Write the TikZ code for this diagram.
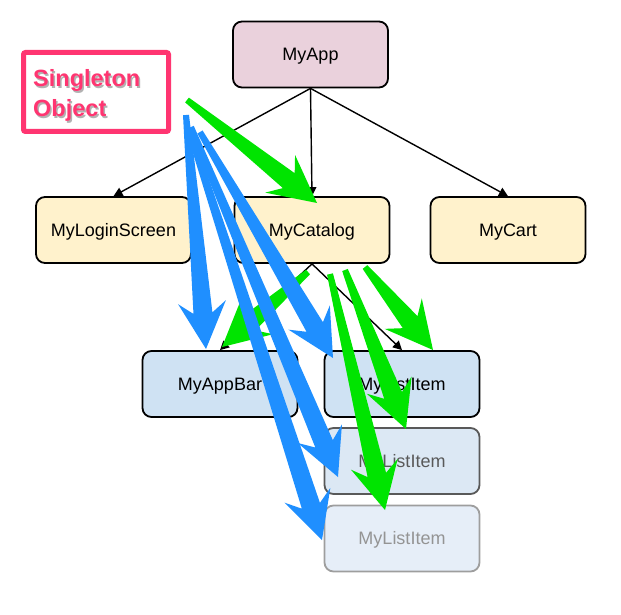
\documentclass[tikz,border=0pt]{standalone}
\usepackage{fontspec}
\setmainfont{Liberation Sans}
\usetikzlibrary{calc,arrows.meta}
\definecolor{appfill}{HTML}{EAD1DC}
\definecolor{yelfill}{HTML}{FFF2CC}
\definecolor{bluefill}{HTML}{CFE2F3}
\definecolor{bluefillb}{HTML}{DCE8F4}
\definecolor{bluefillc}{HTML}{E6EEF8}
\definecolor{pinkc}{HTML}{FF3571}
\definecolor{greenc}{HTML}{00E400}
\definecolor{bluec}{HTML}{1F8FFF}
\newcommand\fatarrow[3]{%
  \path ($(#3)!47pt!(#2)$) coordinate (fab) ($(#3)!36pt!(#2)$) coordinate (faj);
  \fill[#1] ($(#2)!3pt!90:(#3)$) -- ($(faj)!9.5pt!-90:(#2)$) -- ($(fab)!24pt!-90:(#2)$) -- (#3)
    -- ($(fab)!24pt!90:(#2)$) -- ($(faj)!9.5pt!90:(#2)$) -- ($(#2)!3pt!-90:(#3)$) -- cycle;
}
\begin{document}
\begin{tikzpicture}[x=1pt,y=-1pt,
  box/.style={draw=black, line width=1.8pt, rounded corners=9pt, minimum width=155pt,
    minimum height=66pt, inner sep=0pt, text height=12pt, text depth=0pt,
    font=\fontsize{18}{20}\selectfont},
  link/.style={line width=1.4pt, -{Triangle[length=9pt,width=9pt]}},
  singtext/.style={anchor=base west, inner sep=0pt, font=\fontsize{23.5}{26}\selectfont\bfseries}]
\useasboundingbox (0,0) rectangle (621,615);
% boxes
\node[box, fill=appfill] (app) at (310.5,54.5) {MyApp};
\node[box, fill=yelfill] (login) at (113.5,230) {MyLoginScreen};
\node[box, fill=yelfill] (catalog) at (312,230) {MyCatalog};
\node[box, fill=yelfill] (cart) at (508,230) {MyCart};
\node[box, fill=bluefill] (appbar) at (220,384) {MyAppBar};
\node[box, fill=bluefill] (item1) at (402,384) {MyListItem};
\node[box, fill=bluefillb, draw=black!65, text=black!65] (item2) at (402,461) {MyListItem};
\node[box, fill=bluefillc, draw=black!38, text=black!42] (item3) at (402,538.5) {MyListItem};
% singleton label
\node[draw=pinkc, line width=5pt, rounded corners=2pt, fill=white, minimum width=145pt,
  minimum height=79pt, inner sep=0pt] (single) at (96,92) {};
\node[singtext, text=black!30] at (34.5,88.5) {Singleton};
\node[singtext, text=black!30] at (34.5,118.5) {Object};
\node[singtext, text=pinkc] (s1) at (33,87) {Singleton};
\node[singtext, text=pinkc] (s2) at (33,117) {Object};
% tree links
\draw[link] (app.south) -- (login.north);
\draw[link] (app.south) -- (catalog.north);
\draw[link] (app.south) -- (cart.north);
\draw[link] (catalog.south) -- (appbar.north);
\draw[link] (catalog.south) -- (item1.north);
% annotation arrows
\coordinate (g1a) at (187,100); \coordinate (g1b) at (317,203);
\coordinate (g2a) at (308,272); \coordinate (g2b) at (222,347);
\coordinate (g3a) at (365,267); \coordinate (g3b) at (433,350);
\coordinate (g4a) at (345,270); \coordinate (g4b) at (406,429);
\coordinate (g5a) at (330,274); \coordinate (g5b) at (385,510);
\coordinate (b1a) at (186,115); \coordinate (b1b) at (206,349);
\coordinate (b2a) at (200,132); \coordinate (b2b) at (333,358);
\coordinate (b3a) at (191,127); \coordinate (b3b) at (338,477);
\coordinate (b4a) at (189,130); \coordinate (b4b) at (322,540);
\fatarrow{greenc}{g1a}{g1b}
\fatarrow{greenc}{g2a}{g2b}
\fatarrow{greenc}{g3a}{g3b}
\fatarrow{greenc}{g4a}{g4b}
\fatarrow{greenc}{g5a}{g5b}
\fatarrow{bluec}{b1a}{b1b}
\fatarrow{bluec}{b2a}{b2b}
\fatarrow{bluec}{b3a}{b3b}
\fatarrow{bluec}{b4a}{b4b}
\end{tikzpicture}
\end{document}
